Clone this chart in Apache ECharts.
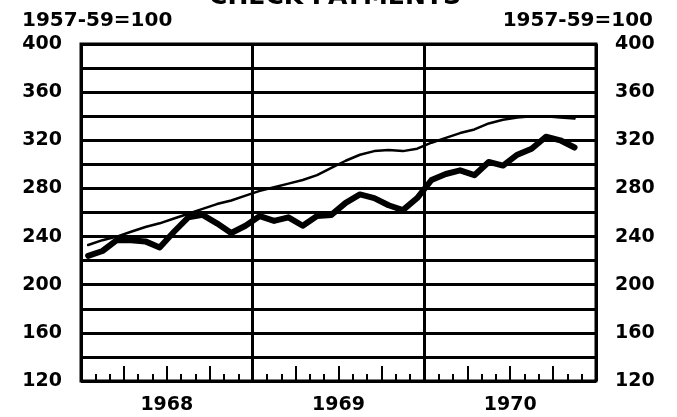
<!DOCTYPE html>
<html>
<head>
<meta charset="utf-8">
<script src="https://cdn.jsdelivr.net/npm/echarts@6/dist/echarts.min.js"></script>
<style>
html,body{margin:0;padding:0;background:#fff;}
#chart{width:677px;height:417px;}
</style>
</head>
<body>
<div id="chart"></div>
<script>
// Title and units
var titleText = 'CHECK PAYMENTS';
var unitText = '1957-59=100';

// Year labels (each spans 12 months)
var years = ['1968', '1969', '1970'];

// Monthly values, Jan 1968 .. Nov 1970
var months = [
  '1968-01','1968-02','1968-03','1968-04','1968-05','1968-06','1968-07','1968-08','1968-09','1968-10','1968-11','1968-12',
  '1969-01','1969-02','1969-03','1969-04','1969-05','1969-06','1969-07','1969-08','1969-09','1969-10','1969-11','1969-12',
  '1970-01','1970-02','1970-03','1970-04','1970-05','1970-06','1970-07','1970-08','1970-09','1970-10','1970-11'
];
// Thick line: actual check payments
var actual = [224, 228, 237, 237, 236, 231, 244, 256, 258, 251, 243, 249,
              257, 253, 256, 249, 257, 258, 268, 275, 272, 266, 262, 272,
              287, 292, 295, 291, 302, 299, 308, 313, 323, 320, 314];
// Thin line: trend
var trend = [233, 237, 240, 244, 248, 251, 255, 259, 263, 267, 270, 274,
             278, 281, 284, 287, 291, 297, 303, 308, 311, 312, 311, 313,
             318, 322, 326, 329, 334, 337, 339, 340, 340, 339, 338];

// Y axis
var yMin = 120, yMax = 400, yStep = 20, yLabelStep = 40;

function toPoints(arr) {
  return arr.map(function (v, i) { return [i + 0.5, v]; });
}

var FONT = 'DejaVu Sans';
var chart = echarts.init(document.getElementById('chart'), null, {renderer: 'canvas'});

var yAxisBase = {
  type: 'value', min: yMin, max: yMax, interval: yStep,
  axisLine: {show: false}, axisTick: {show: false},
  axisLabel: {
    color: '#000', fontFamily: FONT, fontWeight: 'bold', fontSize: 19, margin: 19,
    formatter: function (v) { return (v % yLabelStep === 0) ? String(v) : ''; }
  }
};

var option = {
  backgroundColor: '#fff',
  animation: false,
  grid: {left: 81, right: 81, top: 44, bottom: 36, show: true, borderColor: '#000', borderWidth: 3},
  graphic: [
    {type: 'text', x: 335, y: -15, style: {text: titleText, fill: '#000', font: 'bold 25px "DejaVu Sans"', textAlign: 'center', textVerticalAlign: 'top'}},
    {type: 'text', x: 22, y: 11, style: {text: unitText, fill: '#000', font: 'bold 20px "DejaVu Sans"', textAlign: 'left', textVerticalAlign: 'top'}},
    {type: 'text', x: 653, y: 11, style: {text: unitText, fill: '#000', font: 'bold 20px "DejaVu Sans"', textAlign: 'right', textVerticalAlign: 'top'}}
  ],
  xAxis: [
    {
      type: 'value', min: 0, max: 36, interval: 3, position: 'bottom',
      axisLine: {show: false},
      axisTick: {show: true, inside: true, length: 15, lineStyle: {color: '#000', width: 2}},
      minorTick: {show: true, splitNumber: 3, length: 7, lineStyle: {color: '#000', width: 2}},
      splitLine: {show: false},
      axisLabel: {
        color: '#000', fontFamily: FONT, fontWeight: 'bold', fontSize: 19, margin: 15,
        showMinLabel: true, showMaxLabel: true,
        formatter: function (v) { return (v % 12 === 6) ? years[(v - 6) / 12] : ''; }
      }
    },
    {
      type: 'value', min: 0, max: 36, interval: 12, position: 'bottom',
      axisLine: {show: false}, axisTick: {show: false}, axisLabel: {show: false},
      splitLine: {show: true, lineStyle: {color: '#000', width: 3}}
    }
  ],
  yAxis: [
    Object.assign({}, yAxisBase, {position: 'left', splitLine: {show: true, lineStyle: {color: '#000', width: 3}}}),
    Object.assign({}, yAxisBase, {position: 'right', splitLine: {show: false},
      axisLabel: Object.assign({}, yAxisBase.axisLabel, {align: 'left'})})
  ],
  series: [
    {
      type: 'line', name: 'trend', xAxisIndex: 0, yAxisIndex: 0,
      data: toPoints(trend), showSymbol: false, symbol: 'none',
      lineStyle: {color: '#000', width: 2.5, join: 'round', cap: 'round'}
    },
    {
      type: 'line', name: 'actual', xAxisIndex: 0, yAxisIndex: 0,
      data: toPoints(actual), showSymbol: false, symbol: 'none',
      lineStyle: {color: '#000', width: 6, join: 'round', cap: 'round'}
    }
  ]
};
chart.setOption(option);
</script>
</body>
</html>
